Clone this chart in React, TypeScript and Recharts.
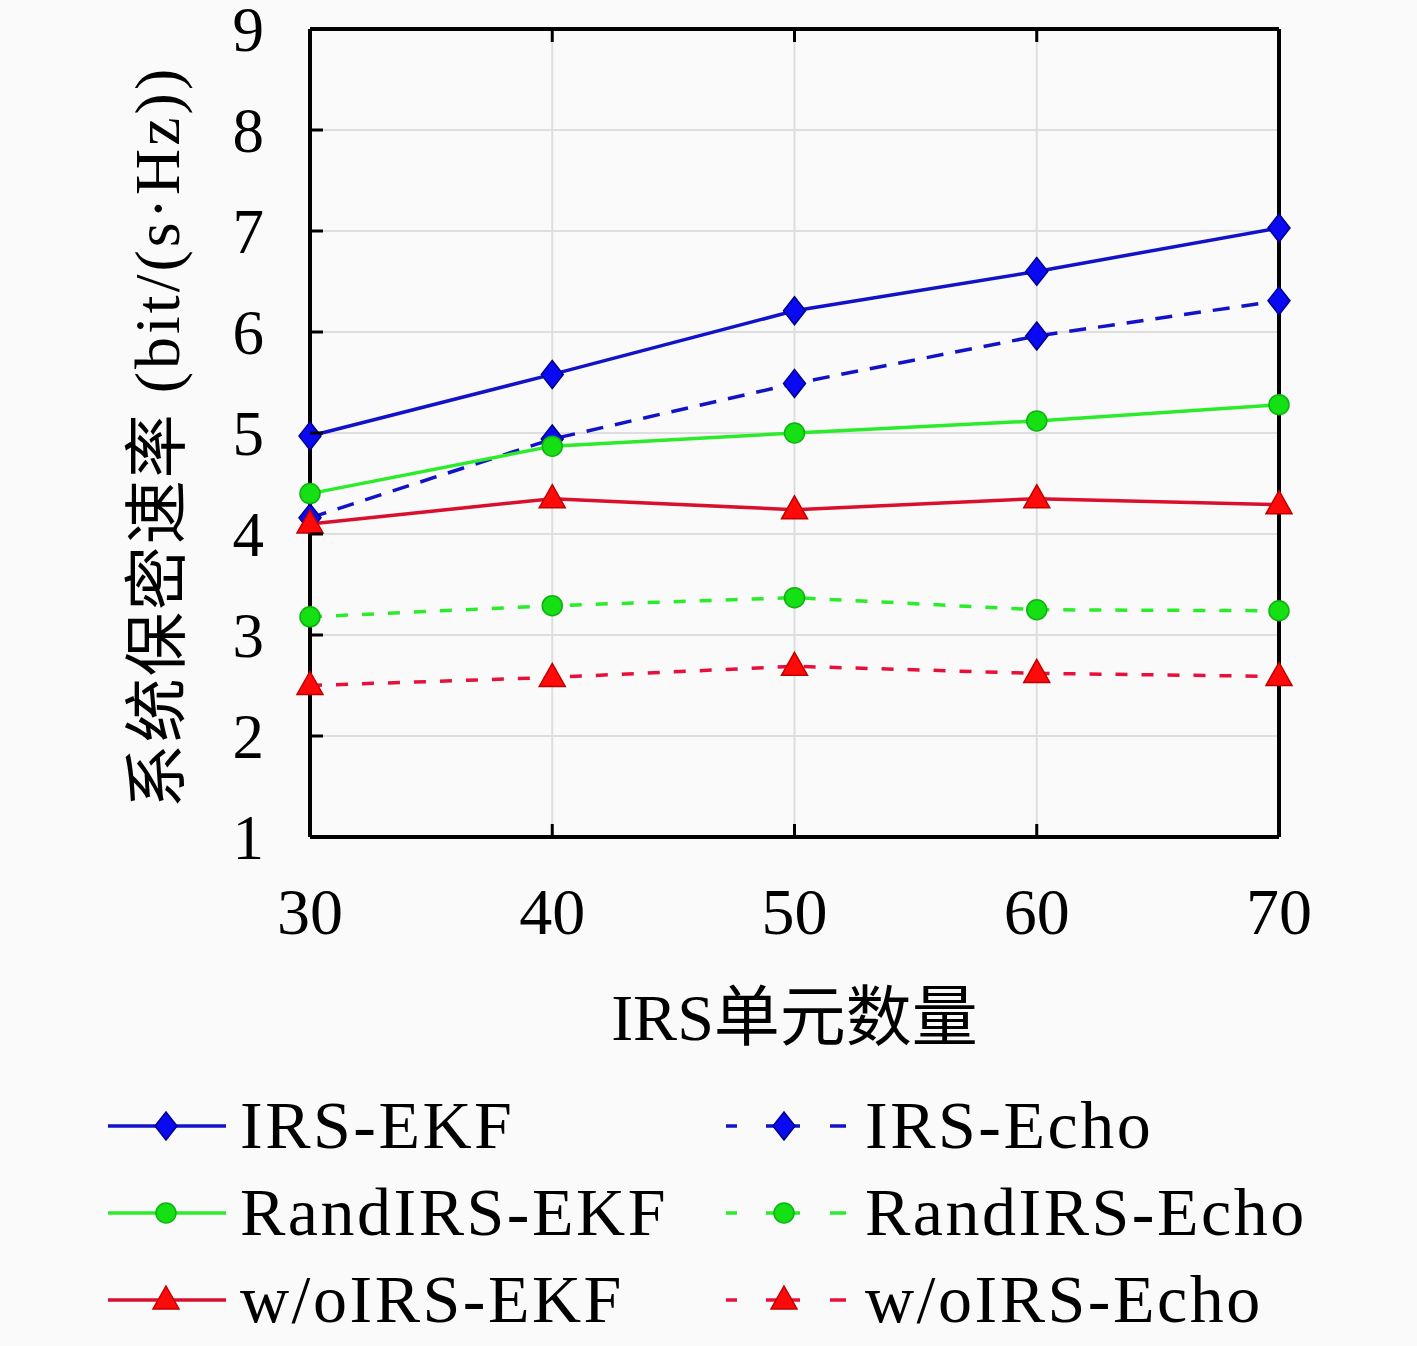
import React from 'react';
import { LineChart, Line, XAxis, YAxis, CartesianGrid, Legend } from 'recharts';

const irsCounts = [30, 40, 50, 60, 70];
const irsEkf = [4.97, 5.58, 6.21, 6.6, 7.03];
const irsEcho = [4.16, 4.94, 5.49, 5.96, 6.31];
const randIrsEkf = [4.4, 4.87, 5.0, 5.12, 5.28];
const randIrsEcho = [3.18, 3.29, 3.37, 3.25, 3.24];
const woIrsEkf = [4.1, 4.35, 4.24, 4.35, 4.29];
const woIrsEcho = [2.5, 2.58, 2.69, 2.62, 2.59];

const xTicks = [30, 40, 50, 60, 70];
const yTicks = [1, 2, 3, 4, 5, 6, 7, 8, 9];

const FONT = '"Liberation Serif", "Noto Sans CJK SC", serif';

const chartData = irsCounts.map((n, i) => ({
  n,
  irsEkf: irsEkf[i],
  irsEcho: irsEcho[i],
  randIrsEkf: randIrsEkf[i],
  randIrsEcho: randIrsEcho[i],
  woIrsEkf: woIrsEkf[i],
  woIrsEcho: woIrsEcho[i],
}));

type Marker = 'diamond' | 'circle' | 'triangle';

const drawMarker = (marker: Marker, cx: number, cy: number, fill: string, edge: string) => {
  if (marker === 'diamond') {
    return (
      <path
        d={`M${cx},${cy - 14} L${cx + 11},${cy} L${cx},${cy + 14} L${cx - 11},${cy} Z`}
        fill={fill}
        stroke={edge}
        strokeWidth={1.5}
      />
    );
  }
  if (marker === 'circle') {
    return <circle cx={cx} cy={cy} r={10} fill={fill} stroke={edge} strokeWidth={1.5} />;
  }
  return (
    <path
      d={`M${cx},${cy - 14} L${cx + 13},${cy + 9} L${cx - 13},${cy + 9} Z`}
      fill={fill}
      stroke={edge}
      strokeWidth={1.5}
    />
  );
};

const series = [
  { key: 'irsEkf', name: 'IRS-EKF', color: '#1212c8', fill: '#0a0af2', edge: '#00008c', dash: undefined, marker: 'diamond' as Marker },
  { key: 'irsEcho', name: 'IRS-Echo', color: '#1212c8', fill: '#0a0af2', edge: '#00008c', dash: '17 12', marker: 'diamond' as Marker },
  { key: 'randIrsEkf', name: 'RandIRS-EKF', color: '#2aec2a', fill: '#14e014', edge: '#10b010', dash: undefined, marker: 'circle' as Marker },
  { key: 'randIrsEcho', name: 'RandIRS-Echo', color: '#2aec2a', fill: '#14e014', edge: '#10b010', dash: '12 14', marker: 'circle' as Marker },
  { key: 'woIrsEkf', name: 'w/oIRS-EKF', color: '#d8102e', fill: '#ff0a0a', edge: '#c00000', dash: undefined, marker: 'triangle' as Marker },
  { key: 'woIrsEcho', name: 'w/oIRS-Echo', color: '#e6103a', fill: '#ff0a0a', edge: '#c00000', dash: '12 14', marker: 'triangle' as Marker },
];

const LeftTick = (props: any) => {
  const { x, y, payload } = props;
  return (
    <g>
      <line x1={x} y1={y} x2={x + 13} y2={y} stroke="#000" strokeWidth={3} />
      <text x={x - 46} y={y + 1} textAnchor="end" dominantBaseline="central" fontSize={63} fontFamily={FONT} fill="#000">
        {payload.value}
      </text>
    </g>
  );
};

const RightTick = (props: any) => {
  const { x, y } = props;
  return <line x1={x} y1={y} x2={x - 13} y2={y} stroke="#000" strokeWidth={3} />;
};

const BottomTick = (props: any) => {
  const { x, y, payload } = props;
  return (
    <g>
      <line x1={x} y1={y} x2={x} y2={y - 13} stroke="#000" strokeWidth={3} />
      <text x={x} y={y + 74} textAnchor="middle" dominantBaseline="central" fontSize={66} fontFamily={FONT} fill="#000">
        {payload.value}
      </text>
    </g>
  );
};

const TopTick = (props: any) => {
  const { x, y } = props;
  return <line x1={x} y1={y} x2={x} y2={y + 13} stroke="#000" strokeWidth={3} />;
};

const LegendIcon = ({ s }: { s: (typeof series)[number] }) => (
  <svg width={130} height={40} style={{ position: 'absolute', left: -4, top: 24 }}>
    {s.dash ? (
      <>
        <line x1={4} y1={20} x2={15} y2={20} stroke={s.color} strokeWidth={3.5} />
        <line x1={44} y1={20} x2={78} y2={20} stroke={s.color} strokeWidth={3.5} />
        <line x1={108} y1={20} x2={124} y2={20} stroke={s.color} strokeWidth={3.5} />
      </>
    ) : (
      <line x1={4} y1={20} x2={122} y2={20} stroke={s.color} strokeWidth={3.5} />
    )}
    {drawMarker(s.marker, 62, 20, s.fill, s.edge)}
  </svg>
);

const LegendBlock = () => {
  const iconLeft = [108, 726];
  const textLeft = [240, 865];
  return (
    <div style={{ position: 'relative', width: 1417, height: 266 }}>
      {series.map((s, i) => {
        const col = i % 2;
        const row = Math.floor(i / 2);
        return (
          <div key={s.key} style={{ position: 'absolute', left: 0, top: 2 + row * 87, height: 87, width: 1417 }}>
            <div style={{ position: 'absolute', left: iconLeft[col], top: 0 }}>
              <LegendIcon s={s} />
            </div>
            <span
              style={{
                position: 'absolute',
                left: textLeft[col],
                top: 0,
                lineHeight: '87px',
                fontSize: 68,
                fontFamily: FONT,
                whiteSpace: 'nowrap',
                letterSpacing: 2.5,
                color: '#000',
              }}
            >
              {s.name}
            </span>
          </div>
        );
      })}
    </div>
  );
};

export default function App() {
  return (
    <div style={{ position: 'absolute', left: 0, top: 0, width: 1417, height: 1346, background: '#fafafa' }}>
      <LineChart
        width={1417}
        height={1346}
        data={chartData}
        margin={{ top: 19, right: 118, left: 190, bottom: 0 }}
      >
        <CartesianGrid stroke="#dedede" strokeWidth={2} vertical horizontal />
        <XAxis
          dataKey="n"
          type="number"
          domain={[30, 70]}
          ticks={xTicks}
          interval={0}
          height={243}
          tickSize={0}
          tickMargin={0}
          tickLine={false}
          axisLine={{ stroke: '#000', strokeWidth: 4 }}
          tick={BottomTick}
          label={(props: any) => {
            const vb = props.viewBox;
            return (
              <text
                x={vb.x + vb.width / 2}
                y={vb.y + 180}
                textAnchor="middle"
                dominantBaseline="central"
                fontSize={66}
                fontFamily={FONT}
                fill="#000"
              >
                IRS单元数量
              </text>
            );
          }}
        />
        <XAxis
          xAxisId="top"
          dataKey="n"
          type="number"
          orientation="top"
          domain={[30, 70]}
          ticks={xTicks}
          interval={0}
          height={10}
          tickSize={0}
          tickMargin={0}
          tickLine={false}
          axisLine={{ stroke: '#000', strokeWidth: 4 }}
          tick={TopTick}
        />
        <YAxis
          type="number"
          domain={[1, 9]}
          ticks={yTicks}
          interval={0}
          width={120}
          tickSize={0}
          tickMargin={0}
          tickLine={false}
          axisLine={{ stroke: '#000', strokeWidth: 4 }}
          tick={LeftTick}
          label={(props: any) => {
            const vb = props.viewBox;
            const cx = 157;
            const cy = vb.y + vb.height / 2 + 4;
            return (
              <text
                x={cx}
                y={cy}
                transform={`rotate(-90 ${cx} ${cy})`}
                textAnchor="middle"
                dominantBaseline="central"
                fontSize={64}
                fontFamily={FONT}
                fill="#000"
              >
                <tspan letterSpacing={2}>系统保密速率</tspan>
                <tspan letterSpacing={3}> (bit/(s·Hz))</tspan>
              </text>
            );
          }}
        />
        <YAxis
          yAxisId="right"
          orientation="right"
          type="number"
          domain={[1, 9]}
          ticks={yTicks}
          interval={0}
          width={20}
          tickSize={0}
          tickMargin={0}
          tickLine={false}
          axisLine={{ stroke: '#000', strokeWidth: 4 }}
          tick={RightTick}
        />
        <Legend
          verticalAlign="bottom"
          content={() => <LegendBlock />}
          wrapperStyle={{ left: 0, bottom: 0, width: 1417, height: 266 }}
        />
        {series.map((s) => (
          <Line
            key={s.key}
            type="linear"
            dataKey={s.key}
            name={s.name}
            stroke={s.color}
            strokeWidth={3.5}
            strokeDasharray={s.dash}
            isAnimationActive={false}
            dot={(p: any) => <g key={`${s.key}-${p.index}`}>{drawMarker(s.marker, p.cx, p.cy, s.fill, s.edge)}</g>}
            activeDot={false}
          />
        ))}
      </LineChart>
    </div>
  );
}
